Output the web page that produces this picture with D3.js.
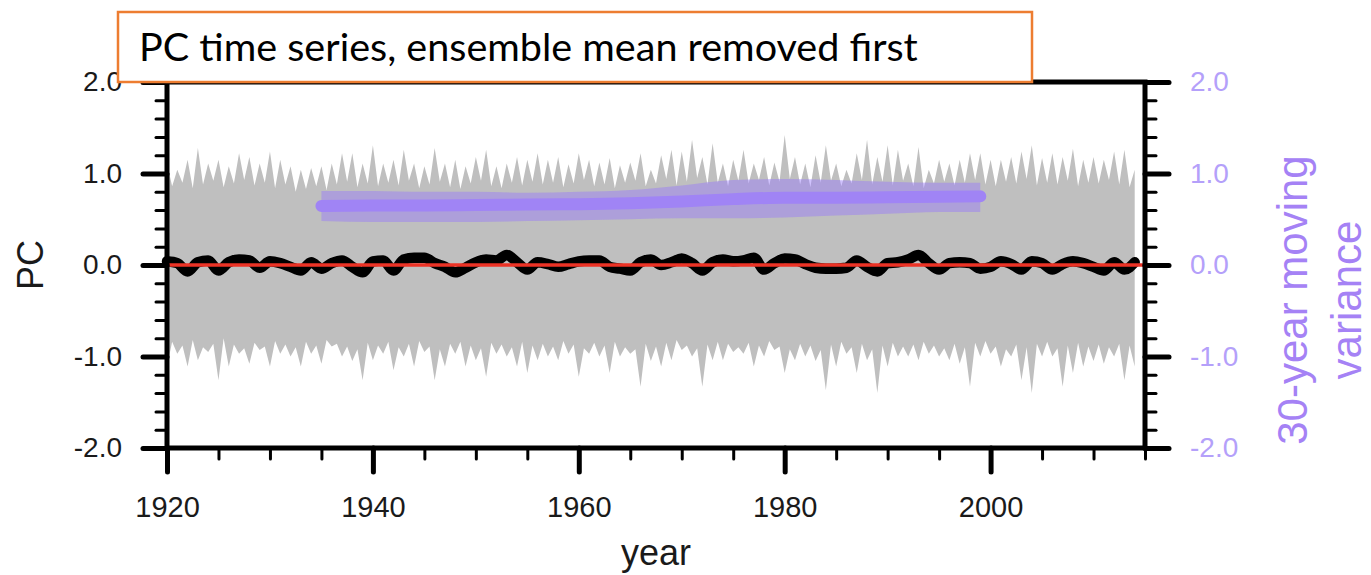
<!DOCTYPE html>
<html><head><meta charset="utf-8">
<script src="https://cdn.jsdelivr.net/npm/d3@7/dist/d3.min.js"></script>
<style>body{margin:0;background:#fff}svg{display:block}</style>
</head><body>
<svg id="c" width="1371" height="575"></svg>
<script>
// ---------------- DATA ----------------
const years = d3.range(1920, 2015); // 1920..2014
// upper envelope of ensemble spread (annual peaks) 1920..2014
const upperPeak = [1.11,1.04,1.15,1.28,1.11,1.15,1.08,1.22,1.18,1.11,
  1.24,1.15,1.08,1.04,1.06,1.08,1.11,1.22,1.22,1.11,
  1.31,1.11,1.15,1.26,1.11,1.08,1.28,1.11,1.15,1.08,
  1.18,1.26,1.08,1.11,1.18,1.15,1.22,1.15,1.18,1.10,
  1.22,1.15,1.12,1.17,1.09,1.12,1.22,1.04,1.20,1.26,
  1.24,1.37,1.18,1.33,1.11,1.15,1.26,1.11,1.18,1.12,
  1.42,1.18,1.11,1.20,1.31,1.11,1.04,1.22,1.37,1.18,
  1.31,1.26,1.11,1.29,1.04,1.15,1.11,1.15,1.22,1.22,
  1.15,1.15,1.18,1.24,1.31,1.17,1.22,1.18,1.27,1.15,
  1.18,1.15,1.24,1.26,1.04];
// upper envelope between peaks (mid-year) 1920.5..2013.5
const upperDip = [0.86,0.90,0.84,0.88,0.92,0.85,0.89,0.93,0.87,0.90,
  0.84,0.88,0.80,0.83,0.86,0.82,0.88,0.91,0.85,0.89,
  0.86,0.90,0.87,0.92,0.84,0.88,0.91,0.85,0.83,0.89,
  0.92,0.86,0.84,0.90,0.87,0.91,0.88,0.90,0.85,0.89,
  0.93,0.86,0.88,0.84,0.90,0.92,0.86,0.89,0.94,0.87,
  0.91,0.95,0.88,0.90,0.86,0.92,0.89,0.93,0.87,0.91,
  0.94,0.88,0.85,0.90,0.92,0.86,0.89,0.93,0.88,0.91,
  0.87,0.92,0.86,0.84,0.89,0.91,0.87,0.90,0.93,0.88,
  0.86,0.91,0.89,0.94,0.87,0.90,0.88,0.92,0.86,0.90,
  0.89,0.93,0.88,0.85];
// lower envelope (annual extremes) 1920..2014
const lowerPeak = [-1.11,-0.97,-1.11,-1.04,-0.95,-1.26,-1.11,-0.97,-1.08,-0.93,
  -1.11,-0.97,-1.00,-1.11,-0.97,-1.08,-0.89,-1.00,-1.05,-1.26,
  -1.04,-0.97,-1.15,-1.00,-1.11,-0.95,-1.26,-1.11,-0.97,-1.11,
  -1.04,-1.22,-0.97,-1.00,-1.11,-1.18,-1.04,-1.00,-1.04,-0.97,
  -1.22,-0.97,-1.00,-1.18,-1.00,-0.97,-1.33,-1.05,-1.11,-1.04,
  -0.93,-1.00,-1.33,-1.04,-1.04,-0.95,-0.97,-1.11,-1.00,-0.93,
  -1.18,-1.04,-1.00,-1.05,-1.37,-1.11,-0.97,-1.18,-1.04,-1.40,
  -1.11,-1.00,-1.00,-1.04,-0.97,-1.00,-1.04,-1.08,-1.33,-1.00,
  -0.97,-1.11,-1.00,-1.26,-1.40,-1.00,-1.00,-1.33,-1.18,-1.11,
  -1.05,-1.08,-1.00,-1.26,-1.11];
// lower envelope between extremes (mid-year) 1920.5..2013.5
const lowerDip = [-0.84,-0.88,-0.82,-0.90,-0.86,-0.80,-0.87,-0.91,-0.85,-0.89,
  -0.83,-0.87,-0.90,-0.84,-0.88,-0.82,-0.86,-0.89,-0.92,-0.85,
  -0.88,-0.84,-0.90,-0.86,-0.83,-0.89,-0.92,-0.86,-0.84,-0.88,
  -0.91,-0.85,-0.87,-0.90,-0.84,-0.88,-0.86,-0.89,-0.83,-0.87,
  -0.91,-0.85,-0.88,-0.84,-0.90,-0.92,-0.86,-0.89,-0.85,-0.82,
  -0.88,-0.91,-0.87,-0.84,-0.86,-0.90,-0.85,-0.88,-0.83,-0.89,
  -0.92,-0.86,-0.88,-0.93,-0.87,-0.84,-0.90,-0.86,-0.92,-0.88,
  -0.85,-0.89,-0.87,-0.84,-0.88,-0.91,-0.86,-0.90,-0.85,-0.83,
  -0.89,-0.92,-0.87,-0.90,-0.86,-0.84,-0.91,-0.88,-0.85,-0.89,
  -0.87,-0.90,-0.86,-0.88];
// ensemble-mean-removed PC (thick black line) 1920..2014
const pcValues = [0.04,0.02,-0.07,0.03,0.05,-0.06,0.03,0.06,0.05,-0.03,
  0.04,0.02,-0.02,-0.06,0.03,-0.04,0.02,0.05,-0.02,-0.08,
  0.04,0.05,-0.06,0.06,0.08,0.08,0.02,-0.02,-0.08,-0.03,
  0.03,0.06,0.05,0.11,0.03,-0.05,0.03,0.01,-0.02,0.01,
  0.04,0.05,0.05,-0.02,-0.04,-0.06,0.03,0.06,0.00,0.03,
  0.07,0.02,-0.06,0.03,0.06,0.04,0.05,0.08,-0.05,0.02,
  0.07,0.06,0.01,-0.03,-0.04,-0.04,-0.03,0.05,-0.02,-0.07,
  0.02,0.03,0.06,0.11,0.02,-0.05,0.02,0.03,0.02,-0.04,
  -0.02,0.04,0.01,-0.05,0.04,0.02,-0.05,0.01,0.04,0.02,
  -0.02,-0.06,0.03,-0.05,0.03];
// 30-year moving variance (purple)
const varYears = [1935,1940,1945,1950,1955,1960,1965,1970,1975,1980,1985,1990,1995,1999];
const varMean  = [0.645,0.65,0.65,0.655,0.66,0.665,0.675,0.695,0.72,0.735,0.735,0.74,0.745,0.75];
const varHigh  = [0.81,0.81,0.80,0.80,0.79,0.80,0.82,0.87,0.93,0.94,0.93,0.91,0.90,0.90];
const varLow   = [0.48,0.47,0.47,0.47,0.48,0.49,0.50,0.51,0.51,0.52,0.54,0.56,0.58,0.58];
// ticks
const yMajor = [-2,-1,0,1,2];
const yMajorLabels = ["-2.0","-1.0","0.0","1.0","2.0"];
const xMajor = [1920,1940,1960,1980,2000];
const titleText = "PC time series, ensemble mean removed first";

// ---------------- DRAW ----------------
const svg = d3.select("#c");
const L=167, R=1145, T=82, B=448;
const x = d3.scaleLinear().domain([1920,2015]).range([L,R]);
const y = d3.scaleLinear().domain([-2,2]).range([B,T]);
const FONT = "'Liberation Sans', Arial, Helvetica, sans-serif";

// envelope table
const env = [];
years.forEach((yr,i)=>{
  env.push({t:yr, hi:upperPeak[i], lo:lowerPeak[i]});
  if(i<upperDip.length) env.push({t:yr+0.5, hi:upperDip[i], lo:lowerDip[i]});
});
svg.append("path").datum(env)
  .attr("d", d3.area().x(d=>x(d.t)).y0(d=>y(d.lo)).y1(d=>y(d.hi)))
  .attr("fill","#bfbfbf");

// purple band & line
const vtab = varYears.map((t,i)=>({t, m:varMean[i], h:varHigh[i], l:varLow[i]}));
svg.append("path").datum(vtab)
  .attr("d", d3.area().x(d=>x(d.t)).y0(d=>y(d.l)).y1(d=>y(d.h)).curve(d3.curveMonotoneX))
  .attr("fill","rgb(150,120,250)").attr("fill-opacity",0.45);
svg.append("path").datum(vtab)
  .attr("d", d3.line().x(d=>x(d.t)).y(d=>y(d.m)).curve(d3.curveMonotoneX))
  .attr("fill","none").attr("stroke","#a084f5").attr("stroke-width",12)
  .attr("stroke-linecap","round");

// black PC line
svg.append("path").datum(years.map((t,i)=>({t, v:pcValues[i]})))
  .attr("d", d3.line().x(d=>x(d.t)).y(d=>y(d.v)).curve(d3.curveMonotoneX))
  .attr("fill","none").attr("stroke","#000").attr("stroke-width",10.5)
  .attr("stroke-linejoin","round").attr("stroke-linecap","round");

// red zero line
svg.append("line").attr("x1",x(1920)).attr("x2",x(2015)).attr("y1",y(0)).attr("y2",y(0))
  .attr("stroke","#ec3326").attr("stroke-width",3.5);

// axes
function styleAxis(g, w){
  g.select(".domain").remove();
  g.selectAll(".tick line").attr("stroke","#000").attr("stroke-width",w).attr("stroke-linecap","round");
}
const yMinor = d3.range(-20,21,2).map(v=>v/10);
const xMinor = d3.range(1920,2016,5);
// left
svg.append("g").attr("transform",`translate(${L},0)`)
  .call(d3.axisLeft(y).tickValues(yMinor).tickSize(11).tickFormat("")).call(g=>styleAxis(g,3));
svg.append("g").attr("transform",`translate(${L},0)`)
  .call(d3.axisLeft(y).tickValues(yMajor).tickSize(24).tickPadding(21).tickFormat((d,i)=>yMajorLabels[i]))
  .call(g=>styleAxis(g,5))
  .call(g=>g.selectAll("text").attr("font-family",FONT).attr("font-size",28).attr("fill","#1a1a1a"));
// right
svg.append("g").attr("transform",`translate(${R},0)`)
  .call(d3.axisRight(y).tickValues(yMinor).tickSize(11).tickFormat("")).call(g=>styleAxis(g,3));
svg.append("g").attr("transform",`translate(${R},0)`)
  .call(d3.axisRight(y).tickValues(yMajor).tickSize(24).tickPadding(21).tickFormat((d,i)=>yMajorLabels[i]))
  .call(g=>styleAxis(g,5))
  .call(g=>g.selectAll("text").attr("font-family",FONT).attr("font-size",28).attr("fill","#b4a0fa"));
// bottom
svg.append("g").attr("transform",`translate(0,${B})`)
  .call(d3.axisBottom(x).tickValues(xMinor).tickSize(11).tickFormat("")).call(g=>styleAxis(g,3));
svg.append("g").attr("transform",`translate(0,${B})`)
  .call(d3.axisBottom(x).tickValues(xMajor).tickSize(24).tickPadding(24).tickFormat(d3.format("d")))
  .call(g=>styleAxis(g,5))
  .call(g=>g.selectAll("text").attr("font-family",FONT).attr("font-size",29).attr("fill","#1a1a1a"));

// frame
svg.append("rect").attr("x",L).attr("y",T).attr("width",R-L).attr("height",B-T)
  .attr("fill","none").attr("stroke","#000").attr("stroke-width",5);

// axis titles
svg.append("text").attr("x",(L+R)/2).attr("y",565).attr("text-anchor","middle")
  .attr("font-family",FONT).attr("font-size",36).attr("fill","#1a1a1a").text("year");
svg.append("text").attr("transform",`translate(43,${y(0)}) rotate(-90)`).attr("text-anchor","middle")
  .attr("font-family",FONT).attr("font-size",36).attr("fill","#1a1a1a").text("PC");
const rt = svg.append("text").attr("transform",`translate(1307,300) rotate(-90)`).attr("text-anchor","middle")
  .attr("font-family",FONT).attr("font-size",42).attr("fill","#a582f5");
rt.append("tspan").attr("x",0).attr("y",0).text("30-year moving");
rt.append("tspan").attr("x",0).attr("y",54).text("variance");

// title box
svg.append("rect").attr("x",118).attr("y",12).attr("width",914).attr("height",70)
  .attr("fill","#fff").attr("stroke","#ed7d31").attr("stroke-width",2.5);
const tt = svg.append("text").attr("x",139).attr("y",61)
  .attr("font-family","Lato, 'Open Sans', sans-serif").attr("font-size",36).attr("fill","#000").text(titleText);
const w = tt.node().getComputedTextLength();
tt.attr("font-size", 36*779/w);
</script>
</body></html>
